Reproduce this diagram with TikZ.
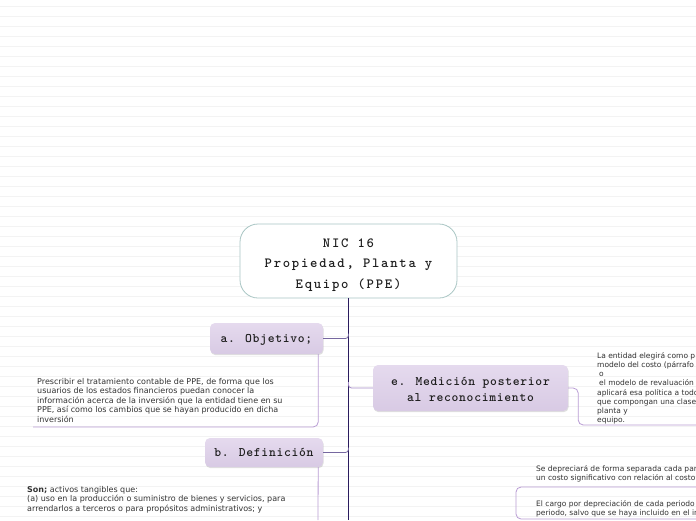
\documentclass[tikz,border=0pt]{standalone}
\usepackage{fontspec}
\newfontfamily\sansf{DejaVu Sans}
\newfontfamily\rootf{lmmonolt10-bold.otf}[LetterSpace=12.5]
\newfontfamily\subf{lmmonolt10-bold.otf}[LetterSpace=5.5]
\usetikzlibrary{shadows,calc}
\definecolor{bgline}{HTML}{F3F3F3}
\definecolor{rootborder}{HTML}{A9C6C4}
\definecolor{mainline}{HTML}{2A1B5E}
\definecolor{connc}{HTML}{7668A0}
\definecolor{connlight}{HTML}{A58CC8}
\definecolor{childc}{HTML}{B99CD4}
\definecolor{subtop}{HTML}{E5DAEE}
\definecolor{subbot}{HTML}{D8CAE4}
\definecolor{textdark}{HTML}{1E1E1E}
\definecolor{textgray}{HTML}{333333}
\tikzset{
  subbox/.style={rounded corners=5pt, top color=subtop, bottom color=subbot, draw=none,
    drop shadow={shadow xshift=0.6pt, shadow yshift=-1.2pt, opacity=0.25},
    font=\subf\fontsize{13}{16}\selectfont, text=textdark, align=center, inner sep=0pt},
  txt/.style={font=\sansf\fontsize{8}{9.5}\selectfont, align=left, inner sep=0pt, anchor=north west, text=textgray},
  txtr/.style={txt, font=\sansf\fontsize{7.5}{9.3}\selectfont},
  conn/.style={draw=connc, line width=0.8pt},
  connl/.style={draw=connlight, line width=0.8pt},
  childline/.style={draw=childc, line width=0.8pt, rounded corners=5pt},
  mainl/.style={draw=mainline, line width=1.4pt}
}
\begin{document}
\begin{tikzpicture}[x=1pt,y=-1pt]
\useasboundingbox (0,0) rectangle (696,520);
\clip (0,0) rectangle (696,520);
\fill[white] (0,0) rectangle (696,520);
\foreach \k in {0,...,51} \draw[bgline,line width=0.7pt] (0,6+10*\k) -- (696,6+10*\k);

% root
\node[draw=rootborder, fill=white, rounded corners=18pt, minimum width=217pt, minimum height=74pt,
  line width=0.8pt, align=center, text=textdark,
  font=\rootf\fontsize{14}{20.5}\selectfont] (root) at (348.5,261)
  {\rule{0pt}{17pt}NIC 16\\Propiedad, Planta y\\Equipo (PPE)};
\coordinate (mainend) at (348.5,520);
\draw[mainl] (root.south) -- (mainend);

% sub nodes
\node[subbox, minimum width=113pt, minimum height=31pt] (a) at (266.5,338.5) {\rule{0pt}{11pt}a. Objetivo;};
\node[subbox, minimum width=118pt, minimum height=29pt] (b) at (264,452.5) {b. Definición};
\node[subbox, minimum width=195pt, minimum height=46pt] (e) at (470.5,388) {\rule{0pt}{11pt}e. Medición posterior\\al reconocimiento};

% connectors
\draw[conn, rounded corners=3pt] (a.east) -- (a.east -| root.south) -- ($(a.east -| root.south)+(0,-5)$);
\draw[conn, rounded corners=3pt] (b.east) -- (b.east -| root.south) -- ($(b.east -| root.south)+(0,-5)$);
\draw[connl, rounded corners=3pt] ($(e.west -| root.south)+(0,-6)$) -- (e.west -| root.south) -- (e.west);

% texts
\node[txt] (ta) at (37,377.8) {Prescribir el tratamiento contable de PPE, de forma que los\\usuarios de los estados financieros puedan conocer la\\información acerca de la inversión que la entidad tiene en su\\PPE, así como los cambios que se hayan producido en dicha\\inversión};
\node[txt] (tb) at (27,485.8) {{\sansf\bfseries Son;} activos tangibles que:\\(a) uso en la producción o suministro de bienes y servicios, para\\arrendarlos a terceros o para propósitos administrativos; y};
\node[txtr, font=\sansf\fontsize{7.5}{9.15}\selectfont] (te) at (597,352.2) {La entidad elegirá como p\\modelo del costo (párrafo\\\hspace{2pt}o\\\hspace{2pt}el modelo de revaluación\\aplicará esa política a todo\\que compongan una clase\\planta y\\equipo.};
\node[txtr] (tf) at (536,465.2) {Se depreciará de forma separada cada par\\un costo significativo con relación al costo};
\node[txtr] (tg) at (536,500.2) {El cargo por depreciación de cada periodo\\periodo, salvo que se haya incluido en el in};

% child lines
\coordinate (aend) at (33,427);
\draw[childline] ([xshift=-5pt]a.south east) |- (aend);
\coordinate (bend) at (318,520);
\draw[childline] ([xshift=-5pt]b.south east) -- (bend);
\coordinate (eend) at (696,425);
\draw[childline] (e.east) -- ++(10,0) |- (eend);
\coordinate (gtl) at (516,487);
\coordinate (gbr) at (740,519);
\draw[childline] (gtl) rectangle (gbr);
\end{tikzpicture}
\end{document}
